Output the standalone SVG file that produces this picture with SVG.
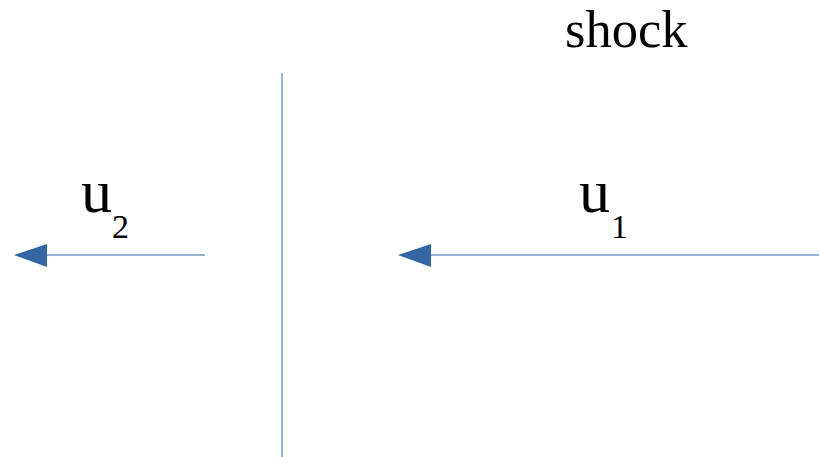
<svg xmlns="http://www.w3.org/2000/svg" width="819" height="457" viewBox="0 0 819 457">
<style>
.t{font-family:"Liberation Serif","Times New Roman",serif;fill:#000}
.flow{stroke:#3465a4;stroke-width:1.1;fill:none}
</style>
<rect width="819" height="457" fill="#fff"/>
<g id="shock">
<line x1="282" y1="73" x2="282" y2="457" stroke="#729fcf" stroke-width="1.5"/>
<text class="t" x="565" y="46.5" font-size="52.5">shock</text>
</g>
<g id="connectors">
<path class="flow" d="M819,255 L431,255"/>
<polygon points="398,255 431,244 431,267" fill="#3465a4"/>
<path class="flow" d="M205,255 L47,255"/>
<polygon points="14,255 47,244 47,267" fill="#3465a4"/>
</g>
<g id="u2">
<text class="t" x="81" y="212" font-size="62">u</text>
<text class="t" x="112" y="238" font-size="34">2</text>
</g>
<g id="u1">
<text class="t" x="579" y="212" font-size="62">u</text>
<text class="t" x="611" y="238" font-size="34">1</text>
</g>
</svg>
